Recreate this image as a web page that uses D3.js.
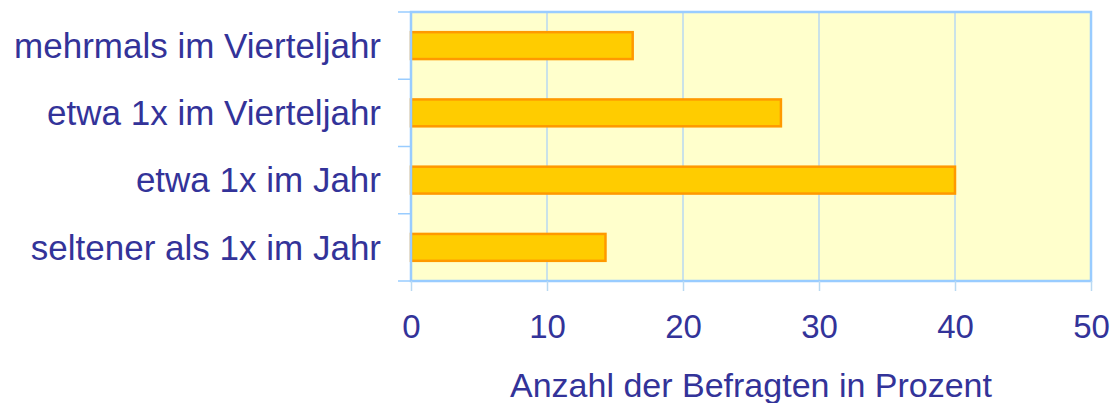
<!DOCTYPE html>
<html><head><meta charset="utf-8">
<script src="https://cdn.jsdelivr.net/npm/d3@7"></script>
<style>body{margin:0;background:#fff;}svg{display:block;}</style>
</head><body>
<svg id="chart" width="1113" height="403"></svg>
<script>
const categories = ["mehrmals im Vierteljahr", "etwa 1x im Vierteljahr", "etwa 1x im Jahr", "seltener als 1x im Jahr"];
const values = [16.3, 27.2, 40, 14.3];
const xTicks = [0, 10, 20, 30, 40, 50];
const xTitle = "Anzahl der Befragten in Prozent";

const svg = d3.select("#chart");
const L = 411, R = 1091, T = 12, B = 281;
const textColor = "#333399", font = "'Liberation Sans', Arial, sans-serif";

const x = d3.scaleLinear().domain([0, 50]).range([L, R]);
const y = d3.scaleBand().domain(categories).range([T, B]).paddingInner(0.6).paddingOuter(0.3);

// background
svg.append("rect").attr("x", L).attr("y", T).attr("width", R - L).attr("height", B - T).attr("fill", "#ffffcc");

// grid
svg.append("g").selectAll("line").data(xTicks.filter(d => d > 0 && d < 50)).join("line")
  .attr("x1", d => x(d)).attr("x2", d => x(d)).attr("y1", T).attr("y2", B)
  .attr("stroke", "#b9d9f2").attr("stroke-width", 1.5);

// bars
svg.append("g").selectAll("rect").data(categories).join("rect")
  .attr("x", x(0)).attr("y", d => y(d))
  .attr("width", (d, i) => x(values[i]) - x(0)).attr("height", y.bandwidth())
  .attr("fill", "#ffcc00").attr("stroke", "#ff9900").attr("stroke-width", 2.5);

// border
svg.append("rect").attr("x", L).attr("y", T).attr("width", R - L).attr("height", B - T)
  .attr("fill", "none").attr("stroke", "#99ccff").attr("stroke-width", 2.5);

// y ticks at band boundaries
const bounds = d3.range(categories.length + 1).map(i => T + i * (B - T) / categories.length);
svg.append("g").selectAll("line").data(bounds).join("line")
  .attr("x1", L - 13).attr("x2", L).attr("y1", d => d).attr("y2", d => d)
  .attr("stroke", "#99ccff").attr("stroke-width", 1.5);

// y labels
svg.append("g").selectAll("text").data(categories).join("text")
  .attr("x", 381).attr("y", d => y(d) + y.bandwidth() / 2).attr("dy", "0.35em")
  .attr("text-anchor", "end").attr("font-family", font).attr("font-size", 35)
  .attr("fill", textColor).text(d => d);

// x axis
const xAxis = d3.axisBottom(x).tickValues(xTicks).tickSize(10).tickPadding(24).tickFormat(d3.format("d"));
const gx = svg.append("g").attr("transform", `translate(0,${B})`).call(xAxis);
gx.select(".domain").remove();
gx.selectAll(".tick line").attr("stroke", "#b9d9f2").attr("stroke-width", 1.5);
gx.selectAll(".tick text").attr("font-family", font).attr("font-size", 33).attr("fill", textColor);

// x title
svg.append("text").attr("x", (L + R) / 2).attr("y", 397).attr("text-anchor", "middle")
  .attr("font-family", font).attr("font-size", 34).attr("fill", textColor).text(xTitle);
</script>
</body></html>
